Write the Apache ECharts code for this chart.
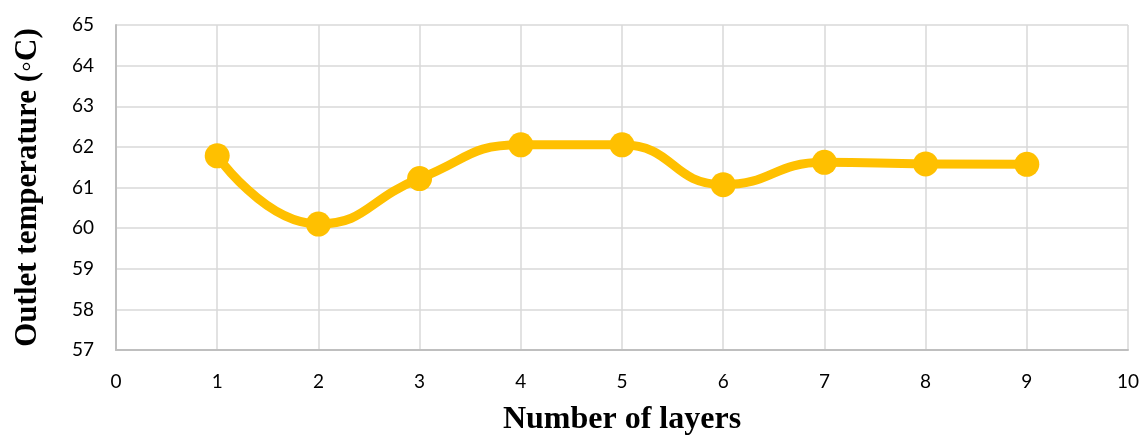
<!DOCTYPE html>
<html>
<head>
<meta charset="utf-8">
<script src="https://cdn.jsdelivr.net/npm/echarts@6/dist/echarts.min.js"></script>
<style>html,body{margin:0;padding:0;background:#fff}#c{width:1143px;height:438px}</style>
</head>
<body>
<div id="c"></div>
<script>
const layers = [1, 2, 3, 4, 5, 6, 7, 8, 9];
const outletTemp = [61.78, 60.1, 61.22, 62.05, 62.05, 61.07, 61.62, 61.58, 61.57];
const xTitle = 'Number of layers';
const yTitle = 'Outlet temperature (\u25E6C)';

const chart = echarts.init(document.getElementById('c'));
chart.setOption({
  animation: false,
  backgroundColor: '#fff',
  grid: { left: 116, right: 15, top: 25, bottom: 88, containLabel: false, outerBoundsMode: 'none' },
  xAxis: {
    type: 'value', min: 0, max: 10, interval: 1,
    name: xTitle, nameLocation: 'middle', nameGap: 54,
    nameTextStyle: { fontFamily: 'Liberation Serif', fontWeight: 'bold', fontSize: 32, color: '#000' },
    axisLine: { show: true, lineStyle: { color: '#BFBFBF', width: 2 } },
    axisTick: { show: false },
    axisLabel: { fontFamily: 'Lato', fontSize: 19, color: '#000', margin: 22 },
    splitLine: { show: true, lineStyle: { color: '#D9D9D9', width: 1.5 } }
  },
  yAxis: {
    type: 'value', min: 57, max: 65, interval: 1,
    name: yTitle, nameLocation: 'middle', nameGap: 73,
    nameTextStyle: { fontFamily: 'Liberation Serif', fontWeight: 'bold', fontSize: 31, color: '#000' },
    axisLine: { show: true, lineStyle: { color: '#BFBFBF', width: 2 } },
    axisTick: { show: false },
    axisLabel: { fontFamily: 'Lato', fontSize: 19, color: '#000', margin: 22 },
    splitLine: { show: true, lineStyle: { color: '#D9D9D9', width: 1.5 } }
  },
  series: [{
    type: 'line',
    data: layers.map((x, i) => [x, outletTemp[i]]),
    smooth: 0.5,
    smoothMonotone: 'none',
    symbol: 'circle', symbolSize: 25,
    lineStyle: { color: '#FFC000', width: 9 },
    itemStyle: { color: '#FFC000' }
  }]
});
</script>
</body>
</html>
